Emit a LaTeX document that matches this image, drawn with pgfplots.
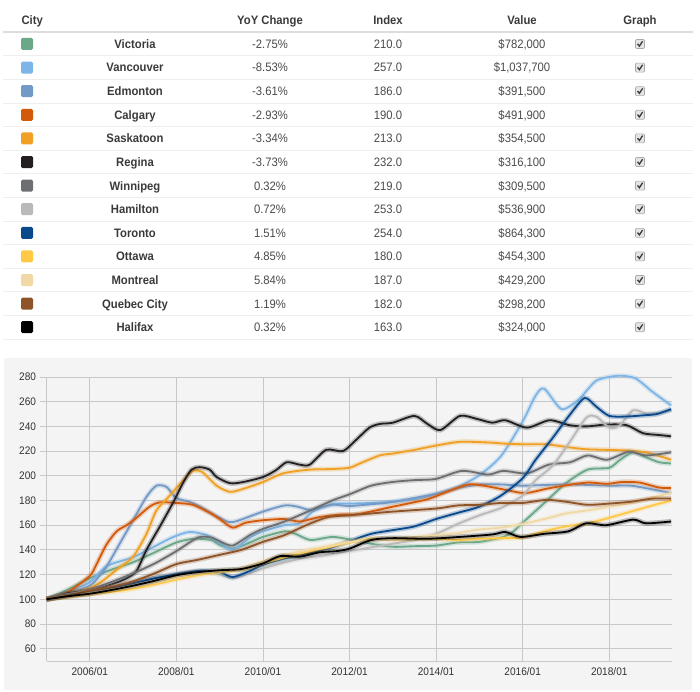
\documentclass[border=0pt]{standalone}
\usepackage{fontspec}
\setmainfont{Liberation Sans}[FakeStretch=0.92]
\usepackage{pgfplots}
\pgfplotsset{compat=1.18}

\definecolor{cVic}{HTML}{6AA889}
\definecolor{cVan}{HTML}{7DB5E6}
\definecolor{cEdm}{HTML}{7399C6}
\definecolor{cCal}{HTML}{D35A0A}
\definecolor{cSas}{HTML}{F0A025}
\definecolor{cReg}{HTML}{231F20}
\definecolor{cWin}{HTML}{6D6E71}
\definecolor{cHam}{HTML}{B9B9B9}
\definecolor{cTor}{HTML}{0A4A8C}
\definecolor{cOtt}{HTML}{FFC845}
\definecolor{cMon}{HTML}{F1D9A5}
\definecolor{cQue}{HTML}{8E5428}
\definecolor{cHal}{HTML}{000000}
\definecolor{txtdark}{HTML}{3A3A3A}
\definecolor{txtmid}{HTML}{4A4A4A}
\definecolor{hdrline}{HTML}{DDDDDD}
\definecolor{rowline}{HTML}{EEEEEE}
\definecolor{panelgray}{HTML}{F4F4F4}
\definecolor{gridgray}{HTML}{C8C8C8}
\definecolor{ticktext}{HTML}{333333}
\definecolor{boxfill}{HTML}{E4E4E4}
\definecolor{boxdraw}{HTML}{AAAAAA}

\newcommand\tabfont{\fontsize{12.3}{14}\selectfont}
\newcommand\tabrow[6]{%
  \node[fill=#2, rounded corners=1.5bp, minimum size=12bp, inner sep=0pt] at (27,-#1) {};
  \node[anchor=base, font=\tabfont\bfseries, text=txtdark] at (135,-#1-4.4) {#3};
  \node[anchor=base, font=\tabfont, text=txtmid] at (270,-#1-4.4) {#4};
  \node[anchor=base, font=\tabfont, text=txtmid] at (388,-#1-4.4) {#5};
  \node[anchor=base, font=\tabfont, text=txtmid] at (522,-#1-4.4) {#6};
  \draw[fill=boxfill, draw=boxdraw, line width=0.6bp, rounded corners=1bp] (635.5,-#1-4.5) rectangle ++(9,9);
  \draw[line width=1.3bp, txtdark] (637.5,-#1+0.2) -- (639.4,-#1-2.1) -- (642.6,-#1+2.8);
}

\pgfplotsset{cityline/.style={smooth, tension=0.45, mark=none, line width=1.8bp, draw=#1,
  preaction={draw=#1, draw opacity=0.25, line width=5bp}}}

\begin{document}
\begin{tikzpicture}
\begin{scope}[x=1bp,y=1bp]
\path (0,0) rectangle (700,-692);

% ---------- table ----------
\node[anchor=base west, font=\tabfont\bfseries, text=txtdark] at (18,-24.4) {City};
\node[anchor=base, font=\tabfont\bfseries, text=txtdark] at (270,-24.4) {YoY Change};
\node[anchor=base, font=\tabfont\bfseries, text=txtdark] at (388,-24.4) {Index};
\node[anchor=base, font=\tabfont\bfseries, text=txtdark] at (522,-24.4) {Value};
\node[anchor=base, font=\tabfont\bfseries, text=txtdark] at (640,-24.4) {Graph};
\draw[line width=2bp, hdrline] (3,-32.5) -- (693,-32.5);
\foreach \k in {0,...,12} {\draw[line width=0.8bp, rowline] (3,{-55.8-23.6*\k}) -- (693,{-55.8-23.6*\k});}

\tabrow{44}{cVic}{Victoria}{-2.75\%}{210.0}{\$782,000}
\tabrow{67.6}{cVan}{Vancouver}{-8.53\%}{257.0}{\$1,037,700}
\tabrow{91.2}{cEdm}{Edmonton}{-3.61\%}{186.0}{\$391,500}
\tabrow{114.8}{cCal}{Calgary}{-2.93\%}{190.0}{\$491,900}
\tabrow{138.4}{cSas}{Saskatoon}{-3.34\%}{213.0}{\$354,500}
\tabrow{162}{cReg}{Regina}{-3.73\%}{232.0}{\$316,100}
\tabrow{185.6}{cWin}{Winnipeg}{0.32\%}{219.0}{\$309,500}
\tabrow{209.2}{cHam}{Hamilton}{0.72\%}{253.0}{\$536,900}
\tabrow{232.8}{cTor}{Toronto}{1.51\%}{254.0}{\$864,300}
\tabrow{256.4}{cOtt}{Ottawa}{4.85\%}{180.0}{\$454,300}
\tabrow{280}{cMon}{Montreal}{5.84\%}{187.0}{\$429,200}
\tabrow{303.6}{cQue}{Quebec City}{1.19\%}{182.0}{\$298,200}
\tabrow{327.2}{cHal}{Halifax}{0.32\%}{163.0}{\$324,000}

% ---------- chart panel ----------
\fill[panelgray] (4,-358) rectangle (692,-690);
\end{scope}

\begin{axis}[
  at={(46.5bp,-661bp)}, anchor=south west,
  scale only axis, width=625.5bp, height=284bp,
  xmin=2005, xmax=2019.45, ymin=50, ymax=280,
  axis x line*=bottom, axis y line*=left,
  axis line style={gridgray, line width=0.8bp},
  grid=major, major grid style={gridgray, line width=0.8bp},
  xtick={2006,2008,...,2018},
  xticklabels={2006/01,2008/01,2010/01,2012/01,2014/01,2016/01,2018/01},
  ytick={60,80,...,280},
  tick align=outside, major tick length=7bp,
  xtick style={draw=none}, ytick style={gridgray, line width=0.8bp},
  tick label style={font=\fontsize{11}{13}\selectfont, text=ticktext},
  xticklabel style={yshift=4bp},
  /pgf/number format/assume math mode=true,
  clip=false,
]
\addplot[cityline=cVic] coordinates {(2005,100)(2005.5,108)(2006,117)(2006.5,124)(2007,130)(2007.5,138)(2008,146)(2008.4,149)(2008.8,148)(2009.0,144)(2009.3,141)(2009.7,146)(2010,150.5)(2010.5,155)(2010.75,153)(2011.1,148)(2011.6,150.5)(2012,148.5)(2012.5,145)(2013,142.5)(2013.5,143)(2014,143.5)(2014.5,146)(2015,146.5)(2015.5,150)(2015.75,154)(2016,162)(2016.5,178)(2017,194)(2017.5,205)(2018,206.5)(2018.25,213)(2018.55,219)(2018.85,215)(2019.15,211)(2019.43,210)};
\addplot[cityline=cVan] coordinates {(2005,100)(2005.5,106)(2006,114)(2006.4,127)(2007,134)(2007.4,141)(2007.9,150)(2008.3,154.5)(2008.7,152)(2009.0,146)(2009.3,140)(2009.7,150)(2010,155)(2010.5,160)(2010.85,161.5)(2011.15,171)(2011.6,177)(2012,177.5)(2012.5,178)(2013,179)(2013.5,181)(2014,185)(2014.5,191)(2015,200.5)(2015.5,216)(2016,244)(2016.3,265)(2016.5,270.5)(2016.9,254)(2017.3,262)(2017.7,277)(2018.2,281)(2018.6,279)(2019.0,268)(2019.43,257)};
\addplot[cityline=cEdm] coordinates {(2005,100)(2005.5,105)(2006,111)(2006.2,118)(2006.38,126)(2006.69,145)(2007.0,164)(2007.31,183)(2007.54,192)(2007.77,191)(2008.0,182)(2008.3,179)(2008.55,175)(2009.0,166)(2009.3,162.5)(2010,171)(2010.5,176)(2010.8,175)(2011.1,172.5)(2011.6,176.5)(2012,175.5)(2012.5,177)(2013,178.8)(2014,185.5)(2014.5,190)(2015,193)(2015.5,193)(2016,192)(2017,193)(2018,192)(2018.5,192)(2019,189)(2019.43,186)};
\addplot[cityline=cCal] coordinates {(2005,100)(2005.5,106)(2006,119)(2006.15,128)(2006.38,144)(2006.62,155)(2006.85,160)(2007.08,166)(2007.38,175)(2007.62,178.5)(2008.0,178)(2008.38,176.5)(2008.77,170)(2009.0,165)(2009.3,158)(2009.6,162)(2010,164)(2010.5,165)(2010.85,163)(2011.3,166.5)(2011.77,168.5)(2012.2,169)(2013,175)(2013.8,181)(2014.25,187)(2014.75,193)(2015.1,192)(2015.55,189)(2016.05,186)(2016.55,189.5)(2016.95,192)(2017.5,194.5)(2017.95,193.5)(2018.3,195)(2018.7,194.5)(2019.15,190.5)(2019.43,190)};
\addplot[cityline=cSas] coordinates {(2005,100)(2005.5,104)(2006,109)(2006.3,115)(2006.62,124)(2007.0,134.5)(2007.31,153)(2007.54,172)(2007.85,184)(2008.15,196)(2008.38,204)(2008.6,203)(2008.93,192)(2009.24,187)(2009.55,189.5)(2010,195)(2010.47,202)(2011.08,205)(2011.62,205.5)(2012.0,206.5)(2012.24,210)(2012.7,216.5)(2013.0,218)(2013.5,221)(2014.0,224.5)(2014.55,227.5)(2015.2,227)(2015.6,226)(2016.1,225.5)(2016.55,225.5)(2017.08,223)(2017.47,221.5)(2017.93,221)(2018.4,220.5)(2018.85,219)(2019.16,216)(2019.43,213)};
\addplot[cityline=cReg] coordinates {(2005,100)(2005.5,105)(2006,107)(2006.5,112)(2006.85,117)(2007.08,123)(2007.31,140)(2007.62,159)(2007.92,178)(2008.15,194)(2008.35,205)(2008.54,207)(2008.77,205)(2008.93,199)(2009.24,194)(2009.55,195)(2010,199)(2010.3,204.5)(2010.55,211)(2010.85,209)(2011.08,209)(2011.46,221)(2011.85,220)(2012.15,229)(2012.46,239)(2012.7,242)(2013.0,243)(2013.5,248.5)(2013.8,242)(2014.1,237)(2014.55,248.5)(2014.95,246)(2015.3,243)(2015.6,245)(2016.1,239)(2016.62,245)(2017.08,241)(2017.47,240)(2017.93,241.5)(2018.4,241)(2018.78,234.5)(2019.16,233)(2019.43,232)};
\addplot[cityline=cWin] coordinates {(2005,100)(2005.5,104)(2006,108)(2006.5,114)(2007,121)(2007.5,129)(2008,139)(2008.5,150)(2008.8,150)(2009.0,147)(2009.3,143.5)(2009.7,152)(2010,157)(2010.5,163)(2011.1,172)(2011.6,180)(2012,185)(2012.5,192)(2013,195)(2013.5,196.5)(2014,197.5)(2014.6,204)(2015.2,201)(2015.55,204)(2016.1,202)(2016.6,209)(2017.1,211)(2017.5,216.5)(2017.95,213)(2018.45,219.5)(2018.85,216.5)(2019.43,219)};
\addplot[cityline=cHam] coordinates {(2005,100)(2005.5,103)(2006,106)(2006.5,110)(2007,114)(2007.5,118)(2008,121)(2008.5,123)(2009.0,120)(2009.3,117)(2009.7,121)(2010,125)(2010.5,130)(2010.9,133)(2011.5,136)(2012,139)(2012.5,142)(2013,145)(2013.5,148)(2014,153)(2014.5,161)(2015,168)(2015.5,174)(2016,184)(2016.3,196.5)(2016.7,208.5)(2017.08,227)(2017.47,247)(2017.7,248)(2018.0,239)(2018.23,240.5)(2018.55,253)(2018.85,250.5)(2019.16,251)(2019.43,253)};
\addplot[cityline=cTor] coordinates {(2005,100)(2005.5,103)(2006,105)(2006.5,109)(2007,113)(2007.5,117)(2008,120)(2008.55,123)(2009.0,122)(2009.3,118)(2009.7,123)(2010,128)(2010.5,133)(2011,137)(2011.6,142)(2012,147)(2012.5,153)(2013,156)(2013.5,159)(2014,165)(2014.5,170)(2015,175)(2015.5,184)(2016,198)(2016.3,213)(2016.7,231)(2017.08,249)(2017.43,263)(2017.7,256)(2018.0,248.5)(2018.4,248)(2018.8,249)(2019.1,250)(2019.43,254)};
\addplot[cityline=cOtt] coordinates {(2005,100)(2005.5,102)(2006,104)(2006.5,106)(2007,108.5)(2007.5,112)(2008,116)(2008.5,119.5)(2009,122)(2009.5,124)(2010,129)(2010.5,134)(2011,138)(2011.5,142)(2012,146)(2012.5,149)(2013,148.5)(2014,149)(2014.5,148)(2015,149)(2015.5,149.5)(2016,150)(2016.5,155)(2017,159)(2017.5,161.5)(2018,166)(2018.5,171)(2019,176)(2019.43,180)};
\addplot[cityline=cMon] coordinates {(2005,100)(2005.5,103)(2006,105)(2006.5,108)(2007,111)(2007.5,114)(2008,118)(2008.5,121)(2009,123)(2009.5,125)(2010,131)(2010.5,136)(2011,140)(2011.5,143)(2012,146.5)(2012.5,148)(2013,149)(2014,152)(2014.5,153.5)(2015,156.5)(2015.5,158)(2016,161)(2016.5,165)(2017,169.5)(2017.5,172)(2018,175)(2018.5,178)(2019,182.5)(2019.43,186)};
\addplot[cityline=cQue] coordinates {(2005,100)(2005.5,103)(2006,107)(2006.5,110)(2007,114.5)(2007.5,121)(2008,128.5)(2008.5,132)(2009,136)(2009.5,140)(2010,146.5)(2010.5,152)(2011,160)(2011.5,166.5)(2012,168)(2012.5,169.5)(2013,171)(2014,173.5)(2014.5,176)(2015,176.5)(2015.5,178)(2016,178)(2016.55,180.5)(2017,179)(2017.5,176.5)(2018,177.5)(2018.5,179)(2019,181.5)(2019.43,181.5)};
\addplot[cityline=cHal] coordinates {(2005,100)(2005.5,102.5)(2006,104.5)(2006.5,107.5)(2007,111)(2007.5,115)(2008,119.5)(2008.5,122)(2009,123.5)(2009.5,124.5)(2010,129)(2010.4,135)(2010.85,134.5)(2011.3,138)(2011.7,139)(2012,141)(2012.5,148)(2013,149.5)(2013.8,149)(2014.55,150.5)(2015.3,152.5)(2015.6,154.5)(2015.95,150.5)(2016.5,153)(2017.05,155)(2017.47,161.5)(2017.93,160)(2018.55,164.5)(2018.85,161.5)(2019.43,163)};
\end{axis}
\end{tikzpicture}
\end{document}
